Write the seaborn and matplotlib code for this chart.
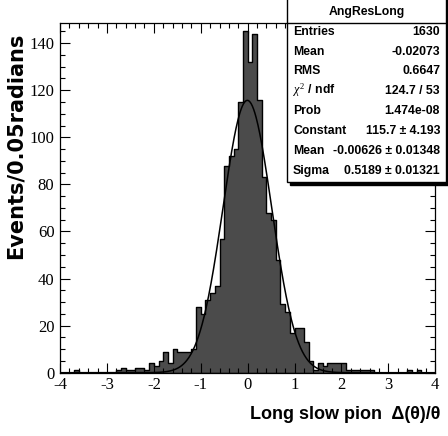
import numpy as np
import pandas as pd
import matplotlib
matplotlib.use("Agg")
import matplotlib.pyplot as plt
import seaborn as sns
from matplotlib.ticker import MultipleLocator
from matplotlib.patches import Rectangle
from matplotlib.lines import Line2D

# ---------------- data ----------------
x_min, x_max, bin_width = -4.0, 4.0, 0.1
counts = [
    0, 0, 0, 1, 0, 0, 0, 0, 0, 0,          # -4.0 .. -3.1
    0, 0, 1, 2, 1, 1, 2, 2, 1, 4,          # -3.0 .. -2.1
    3, 5, 9, 4, 10, 9, 9, 9, 10, 28,       # -2.0 .. -1.1
    25, 31, 34, 37, 57, 88, 92, 95, 115, 145,  # -1.0 .. -0.1
    132, 144, 116, 83, 68, 65, 48, 29, 26, 17,  # 0.0 .. 0.9
    19, 19, 13, 5, 1, 4, 3, 4, 4, 4,       # 1.0 .. 1.9
    4, 1, 1, 1, 1, 1, 1, 0, 0, 0,          # 2.0 .. 2.9
    0, 0, 0, 0, 1, 0, 1, 0, 0, 0,          # 3.0 .. 3.9
]
fit_constant = 115.7
fit_mean = -0.00626
fit_sigma = 0.5189

stats_title = "AngResLong"
stats_labels = ["Entries", "Mean", "RMS", r"$\chi^{2}$ / ndf", "Prob",
                "Constant", "Mean", "Sigma"]
stats_values = ["1630", "-0.02073", "0.6647", "124.7 / 53", "1.474e-08",
                "115.7 \u00b1 4.193", "-0.00626 \u00b1 0.01348",
                "0.5189 \u00b1 0.01321"]

x_ticks = [-4, -3, -2, -1, 0, 1, 2, 3, 4]
y_ticks = [0, 20, 40, 60, 80, 100, 120, 140]
x_label = "Long slow pion  \u0394(\u03b8)/\u03b8"
y_label = "Events/0.05radians"

# ---------------- build ----------------
n_bins = len(counts)
edges = np.linspace(x_min, x_max, n_bins + 1)
centers = 0.5 * (edges[:-1] + edges[1:])
df = pd.DataFrame({"x": centers, "n": counts})

plt.rcParams["axes.unicode_minus"] = False
plt.rcParams["font.family"] = ["Liberation Sans", "DejaVu Sans"]
plt.rcParams["mathtext.fontset"] = "custom"
plt.rcParams["mathtext.rm"] = "Liberation Serif"
plt.rcParams["mathtext.it"] = "Liberation Serif:italic"

W, H = 448, 436
fig = plt.figure(figsize=(W / 100, H / 100), dpi=100)
fig.patch.set_facecolor("white")
ax = fig.add_axes([60 / W, 1 - 372.7 / H, (435.3 - 60) / W, (372.7 - 22.7) / H])

sns.histplot(data=df, x="x", weights="n", binwidth=bin_width,
             binrange=(x_min, x_max), element="step",
             fill=True, color="#4b4b4b", alpha=1, edgecolor="black",
             linewidth=1.0, ax=ax)

xs = np.linspace(x_min, x_max, 600)
fit_df = pd.DataFrame({"x": xs,
                       "y": fit_constant * np.exp(-0.5 * ((xs - fit_mean) / fit_sigma) ** 2)})
sns.lineplot(data=fit_df, x="x", y="y", color="black", linewidth=1.1, ax=ax)

ax.set_xlim(x_min, x_max)
ax.set_ylim(0, 148.7)
ax.set_xlabel("")
ax.set_ylabel("")
ax.set_xticks(x_ticks)
ax.set_yticks(y_ticks)
ax.xaxis.set_minor_locator(MultipleLocator(0.2))
ax.yaxis.set_minor_locator(MultipleLocator(5))
ax.tick_params(which="both", direction="in", top=True, right=True, width=0.8,
               colors="black")
ax.tick_params(which="major", length=7.5)
ax.tick_params(which="minor", length=3.8)
ax.tick_params(axis="y", pad=4)
ax.tick_params(axis="x", pad=3)
for lab in ax.get_xticklabels() + ax.get_yticklabels():
    lab.set_fontfamily("Liberation Serif")
    lab.set_fontsize(12)
for sp in ax.spines.values():
    sp.set_linewidth(0.9)
    sp.set_color("black")

# axis titles
fig.text(16 / W, 1 - 146 / H, y_label, rotation=90, ha="center", va="center",
         fontsize=15, fontweight="bold", family="DejaVu Sans")
fig.text(440 / W, 1 - 419 / H, x_label, ha="right", va="baseline",
         fontsize=13, fontweight="bold")

# stats box
bx0, bx1, by0, by1 = 287, 446, -2, 182.5
shadow = Rectangle((bx0 / W + 2.5 / W, 1 - (by1 + 2.5) / H), (bx1 - bx0) / W,
                   (by1 - by0) / H, transform=fig.transFigure,
                   facecolor="black", edgecolor="black", zorder=10)
box = Rectangle((bx0 / W, 1 - by1 / H), (bx1 - bx0) / W, (by1 - by0) / H,
                transform=fig.transFigure, facecolor="white",
                edgecolor="black", linewidth=1.0, zorder=11)
fig.add_artist(shadow)
fig.add_artist(box)
fig.add_artist(Line2D([bx0 / W, bx1 / W], [1 - 23.3 / H, 1 - 23.3 / H],
                      transform=fig.transFigure, color="black", linewidth=1.0,
                      zorder=12))
fig.text((bx0 + bx1) / 2 / W, 1 - 12.3 / H, stats_title, ha="center",
         va="center", fontsize=8.8, fontweight="bold", zorder=13)
row_y = [32.2, 51.7, 71.2, 90.5, 110.5, 130.5, 151.2, 171.2]
for lab, val, yy in zip(stats_labels, stats_values, row_y):
    fig.text(293 / W, 1 - yy / H, lab, ha="left", va="center",
             fontsize=8.8, fontweight="bold", zorder=13)
    fig.text(440 / W, 1 - yy / H, val, ha="right", va="center",
             fontsize=8.8, fontweight="bold", zorder=13)

fig.savefig("out.png", dpi=100)
